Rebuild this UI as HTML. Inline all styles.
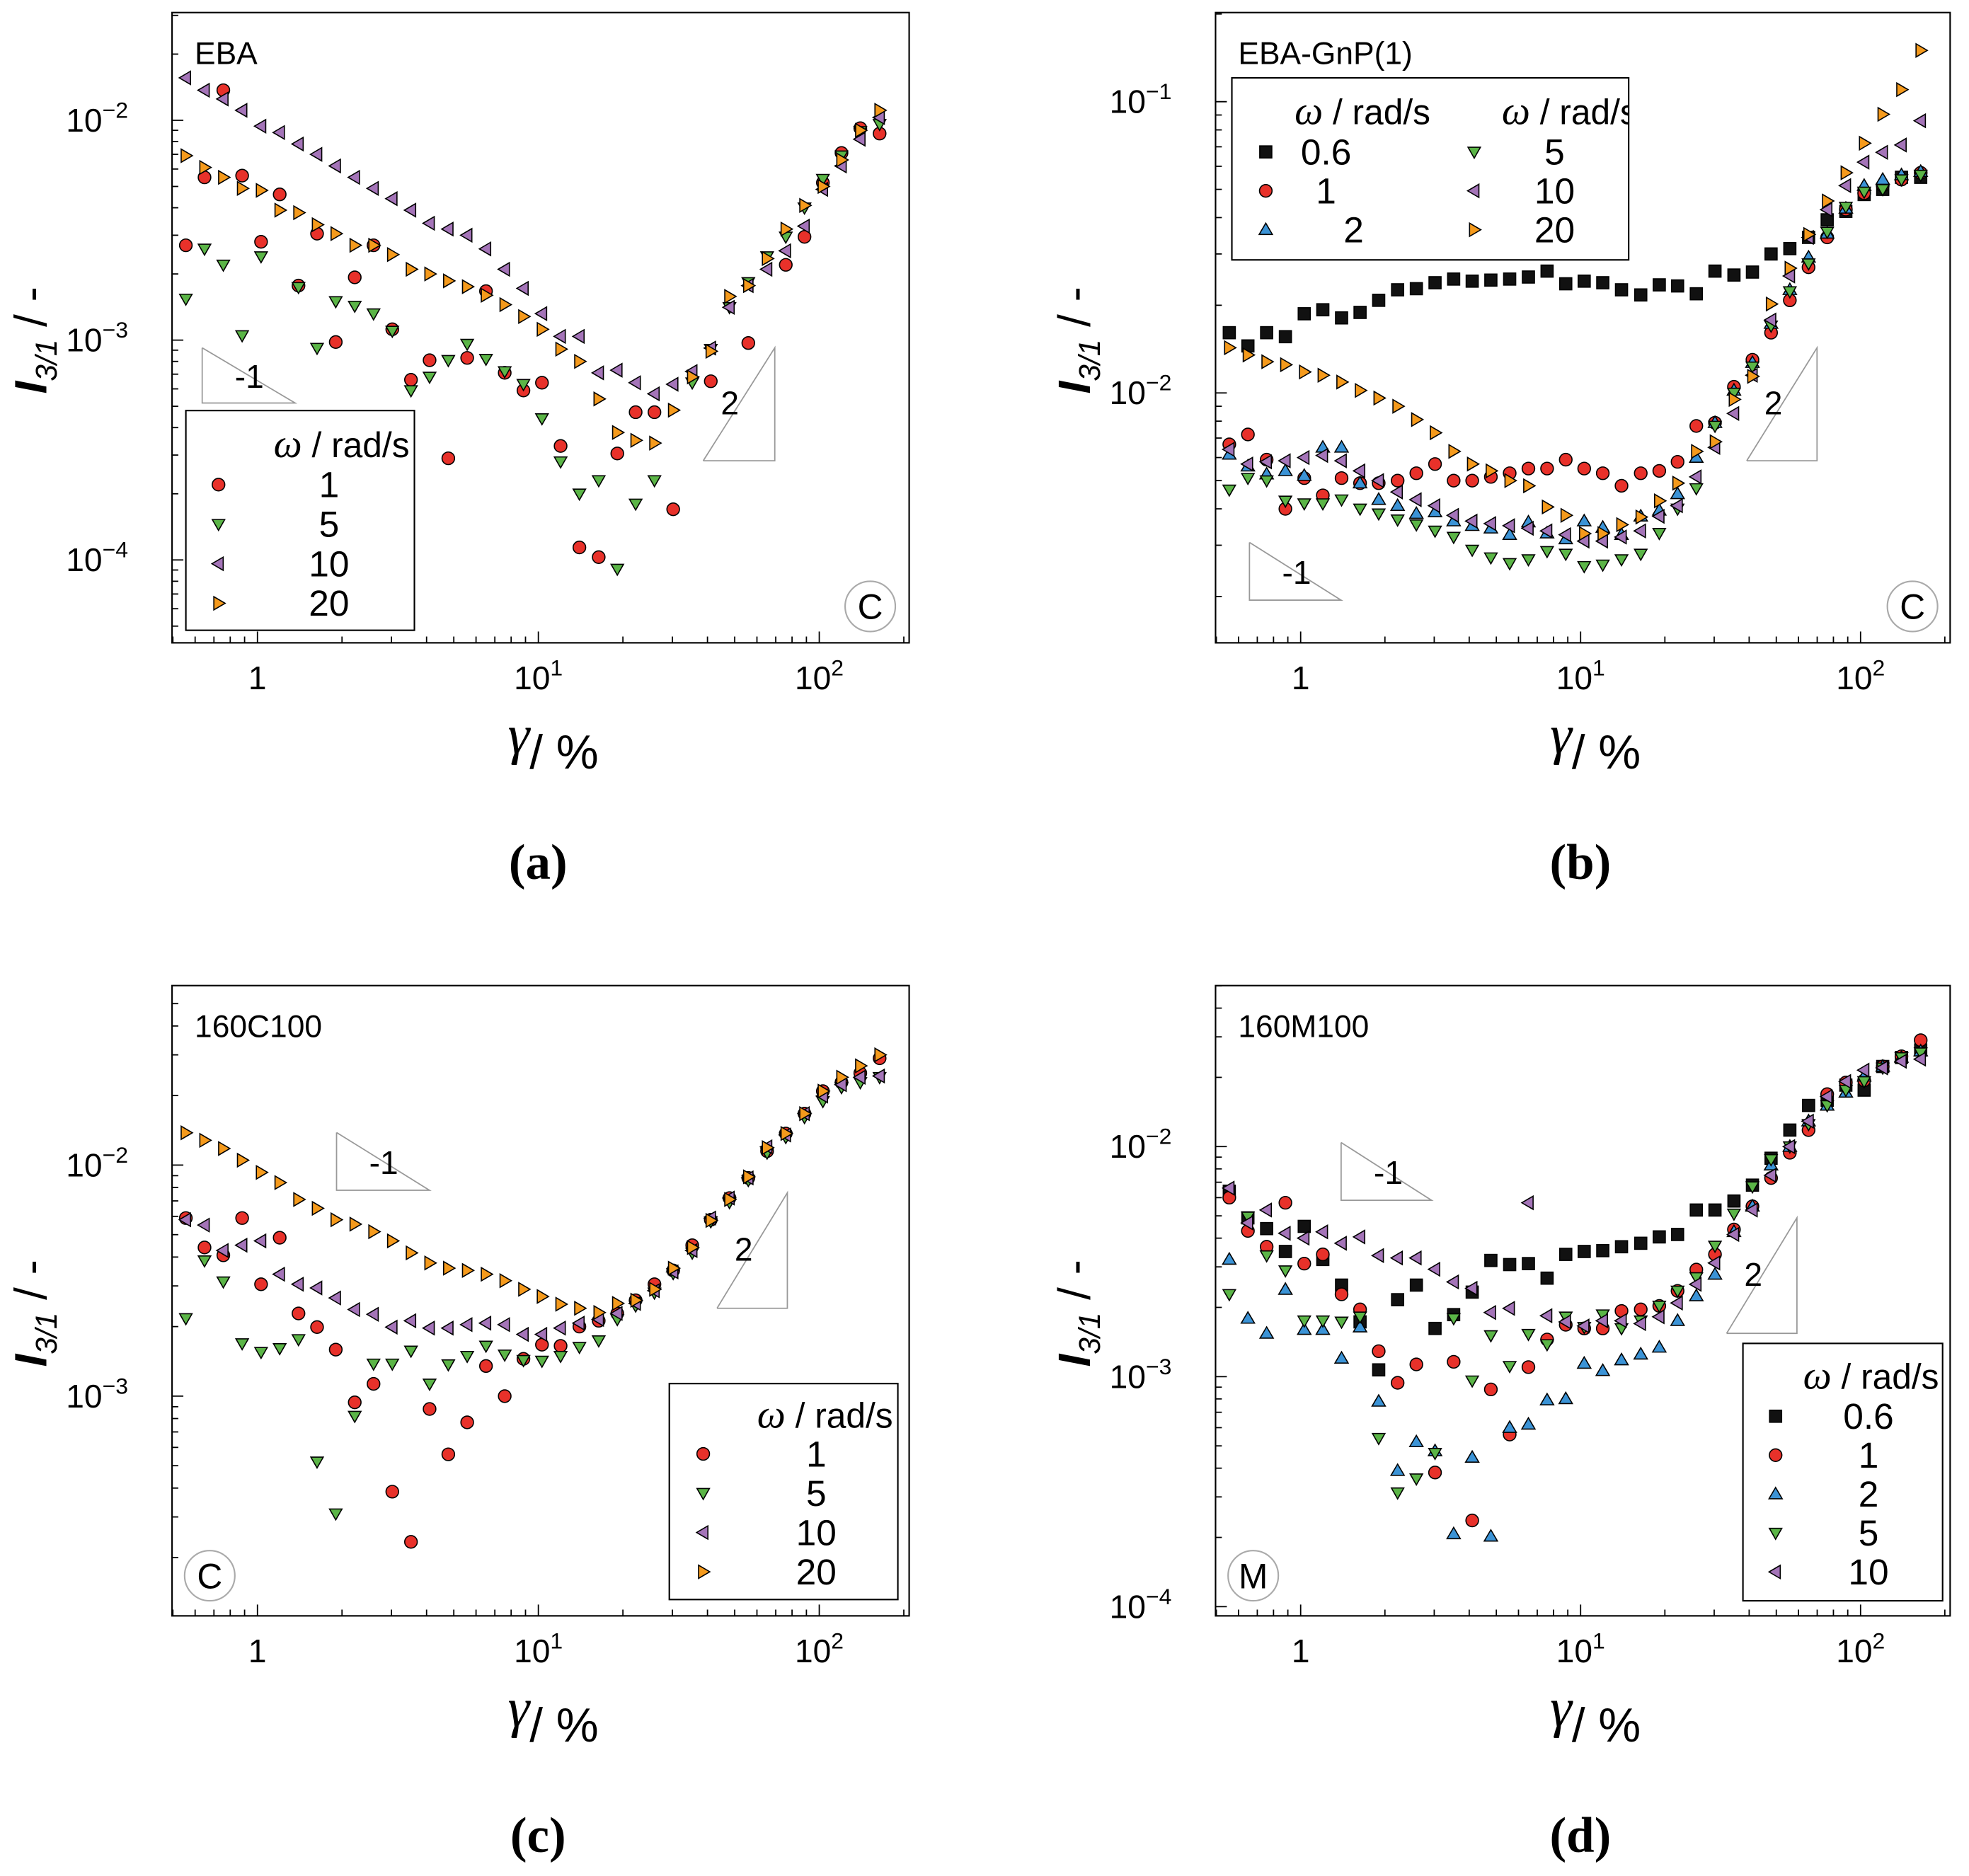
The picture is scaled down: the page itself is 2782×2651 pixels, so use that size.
<!DOCTYPE html>
<html><head><meta charset="utf-8"><style>
html,body{margin:0;padding:0;background:#fff}
svg{display:block}
text{font-family:"Liberation Sans",sans-serif}
text.serif,tspan.serif{font-family:"Liberation Serif",serif}
</style></head><body>
<svg id="fig" xmlns="http://www.w3.org/2000/svg" width="2782" height="2651" viewBox="0 0 1568 1494.2"></svg>
<script>
// shared strain grid (%)
const strain=[0.556,0.648,0.756,0.882,1.03,1.20,1.40,1.63,1.90,2.22,2.59,3.02,3.52,4.10,4.78,5.58,6.51,7.59,8.85,10.3,12.0,14.0,16.4,19.1,22.2,25.9,30.2,35.3,41.1,47.9,55.9,65.2,76.0,88.6,103,120,140,164];
// Panel (a) EBA
const aW1=[2.7e-3,5.5e-3,1.37e-2,5.6e-3,2.8e-3,4.6e-3,1.77e-3,3.05e-3,9.8e-4,1.93e-3,2.7e-3,1.12e-3,6.6e-4,8.1e-4,2.9e-4,8.3e-4,1.67e-3,7.1e-4,5.9e-4,6.4e-4,3.3e-4,1.14e-4,1.03e-4,3.05e-4,4.7e-4,4.7e-4,1.7e-4,null,6.5e-4,null,9.7e-4,null,2.2e-3,2.95e-3,5.2e-3,7.1e-3,9.2e-3,8.7e-3];
const aW5=[1.54e-3,2.6e-3,2.2e-3,1.05e-3,2.4e-3,null,1.74e-3,9.2e-4,1.5e-3,1.43e-3,1.32e-3,1.1e-3,5.9e-4,6.8e-4,8.1e-4,9.6e-4,8.2e-4,7.2e-4,6.3e-4,4.4e-4,2.8e-4,2.0e-4,2.3e-4,9.1e-5,1.8e-4,2.3e-4,null,6.4e-4,9.1e-4,1.41e-3,1.83e-3,2.4e-3,2.95e-3,4.0e-3,5.4e-3,6.9e-3,8.9e-3,9.6e-3];
const aW10=[1.56e-2,1.37e-2,1.25e-2,1.11e-2,9.4e-3,8.8e-3,7.8e-3,7.0e-3,6.2e-3,5.5e-3,4.9e-3,4.4e-3,3.9e-3,3.4e-3,3.2e-3,3.0e-3,2.6e-3,2.1e-3,1.72e-3,1.32e-3,1.04e-3,1.04e-3,7.1e-4,7.3e-4,6.4e-4,5.7e-4,6.3e-4,7.2e-4,9.2e-4,1.41e-3,1.77e-3,2.1e-3,2.55e-3,3.3e-3,4.85e-3,6.2e-3,8.2e-3,1.03e-2];
const aW20=[6.9e-3,6.1e-3,5.5e-3,4.9e-3,4.8e-3,3.9e-3,3.8e-3,3.35e-3,3.05e-3,2.7e-3,2.7e-3,2.45e-3,2.1e-3,2.0e-3,1.86e-3,1.75e-3,1.6e-3,1.45e-3,1.28e-3,1.12e-3,9.1e-4,8.0e-4,5.4e-4,3.8e-4,3.5e-4,3.4e-4,4.8e-4,6.8e-4,8.9e-4,1.58e-3,1.77e-3,2.35e-3,3.2e-3,4.1e-3,5.0e-3,6.6e-3,9.0e-3,1.11e-2];
// Panel (b) EBA-GnP(1)
const bW06=[1.61e-2,1.45e-2,1.61e-2,1.56e-2,1.87e-2,1.93e-2,1.81e-2,1.89e-2,2.08e-2,2.26e-2,2.28e-2,2.39e-2,2.46e-2,2.42e-2,2.44e-2,2.46e-2,2.5e-2,2.62e-2,2.37e-2,2.42e-2,2.39e-2,2.26e-2,2.17e-2,2.35e-2,2.33e-2,2.19e-2,2.62e-2,2.54e-2,2.6e-2,3.0e-2,3.13e-2,3.42e-2,3.93e-2,4.2e-2,4.8e-2,5.0e-2,5.5e-2,5.5e-2];
const bW1=[6.66e-3,7.2e-3,5.9e-3,4.0e-3,5.1e-3,4.45e-3,5.1e-3,4.9e-3,4.9e-3,5.0e-3,5.3e-3,5.7e-3,5.0e-3,5.0e-3,5.15e-3,5.3e-3,5.5e-3,5.5e-3,5.9e-3,5.5e-3,5.3e-3,4.8e-3,5.3e-3,5.4e-3,5.8e-3,7.7e-3,7.9e-3,1.05e-2,1.3e-2,1.61e-2,2.08e-2,2.7e-2,3.42e-2,4.26e-2,4.85e-2,5.15e-2,5.4e-2,5.7e-2];
const bW2=[6.15e-3,5.6e-3,5.26e-3,5.4e-3,5.2e-3,6.5e-3,6.5e-3,4.9e-3,4.3e-3,4.1e-3,3.85e-3,3.9e-3,3.63e-3,3.5e-3,3.43e-3,3.26e-3,3.6e-3,3.3e-3,3.15e-3,3.63e-3,3.45e-3,3.26e-3,3.77e-3,3.95e-3,4.5e-3,6.0e-3,7.9e-3,1.02e-2,1.27e-2,1.73e-2,2.26e-2,2.92e-2,3.53e-2,4.3e-2,5.15e-2,5.4e-2,5.6e-2,5.75e-2];
const bW5=[4.65e-3,5.1e-3,5.0e-3,4.26e-3,4.17e-3,4.17e-3,4.3e-3,4.0e-3,3.85e-3,3.67e-3,3.53e-3,3.36e-3,3.2e-3,2.89e-3,2.72e-3,2.6e-3,2.68e-3,2.86e-3,2.8e-3,2.54e-3,2.57e-3,2.68e-3,2.8e-3,3.3e-3,4.0e-3,4.7e-3,7.7e-3,1.0e-2,1.23e-2,1.7e-2,2.23e-2,2.78e-2,3.57e-2,4.35e-2,4.9e-2,5.0e-2,5.4e-2,5.6e-2];
const bW10=[6.4e-3,5.7e-3,5.8e-3,5.85e-3,6.0e-3,6.1e-3,5.85e-3,5.4e-3,5.0e-3,4.57e-3,4.3e-3,4.1e-3,3.8e-3,3.63e-3,3.56e-3,3.5e-3,3.43e-3,3.36e-3,3.26e-3,3.1e-3,3.1e-3,3.2e-3,3.36e-3,3.77e-3,4.1e-3,5.15e-3,6.5e-3,8.5e-3,1.15e-2,1.78e-2,2.52e-2,3.42e-2,4.26e-2,5.15e-2,6.2e-2,6.7e-2,7.1e-2,8.6e-2];
const bW20=[1.43e-2,1.35e-2,1.28e-2,1.25e-2,1.18e-2,1.15e-2,1.09e-2,1.02e-2,9.6e-3,9.0e-3,8.1e-3,7.3e-3,6.3e-3,5.7e-3,5.4e-3,5.0e-3,4.8e-3,4.06e-3,3.8e-3,3.29e-3,3.29e-3,3.53e-3,3.75e-3,4.26e-3,4.9e-3,6.3e-3,6.8e-3,9.5e-3,1.14e-2,2.02e-2,2.68e-2,3.5e-2,4.56e-2,5.7e-2,7.2e-2,9.05e-2,0.11,0.15];
// Panel (c) 160C100
const cW1=[5.9e-3,4.4e-3,4.07e-3,5.9e-3,3.05e-3,4.85e-3,2.28e-3,1.99e-3,1.59e-3,9.4e-4,1.13e-3,3.86e-4,2.34e-4,8.8e-4,5.6e-4,7.7e-4,1.35e-3,1.0e-3,1.45e-3,1.67e-3,1.65e-3,2.0e-3,2.12e-3,2.28e-3,2.6e-3,3.05e-3,3.5e-3,4.5e-3,5.8e-3,7.2e-3,8.8e-3,1.15e-2,1.37e-2,1.67e-2,2.09e-2,2.28e-2,2.5e-2,2.9e-2];
const cW5=[2.17e-3,3.86e-3,3.13e-3,1.69e-3,1.55e-3,1.61e-3,1.76e-3,5.2e-4,3.1e-4,8.2e-4,1.38e-3,1.38e-3,1.57e-3,1.13e-3,1.37e-3,1.49e-3,1.65e-3,1.51e-3,1.43e-3,1.42e-3,1.49e-3,1.63e-3,1.74e-3,2.15e-3,2.46e-3,2.8e-3,3.4e-3,4.17e-3,5.7e-3,6.9e-3,8.6e-3,1.13e-2,1.32e-2,1.61e-2,1.89e-2,2.17e-2,2.28e-2,2.4e-2];
const cW10=[5.8e-3,5.5e-3,4.27e-3,4.5e-3,4.7e-3,3.37e-3,3.05e-3,2.94e-3,2.66e-3,2.37e-3,2.26e-3,1.99e-3,2.12e-3,1.97e-3,1.97e-3,2.04e-3,2.07e-3,2.04e-3,1.85e-3,1.85e-3,1.97e-3,2.07e-3,2.15e-3,2.28e-3,2.52e-3,2.86e-3,3.45e-3,4.27e-3,5.9e-3,7.2e-3,8.8e-3,1.2e-2,1.35e-2,1.67e-2,1.99e-2,2.23e-2,2.4e-2,2.43e-2];
const cW20=[1.38e-2,1.28e-2,1.18e-2,1.05e-2,9.3e-3,8.4e-3,7.1e-3,6.5e-3,5.8e-3,5.55e-3,5.15e-3,4.7e-3,4.17e-3,3.77e-3,3.58e-3,3.5e-3,3.37e-3,3.16e-3,2.9e-3,2.7e-3,2.5e-3,2.4e-3,2.3e-3,2.52e-3,2.6e-3,2.9e-3,3.58e-3,4.4e-3,5.76e-3,7.1e-3,8.9e-3,1.19e-2,1.37e-2,1.67e-2,2.09e-2,2.4e-2,2.69e-2,3.0e-2];
// Panel (d) 160M100
const dW06=[6.4e-3,4.9e-3,4.4e-3,3.5e-3,4.5e-3,3.23e-3,2.5e-3,1.73e-3,1.07e-3,2.16e-3,2.5e-3,1.62e-3,1.86e-3,2.33e-3,3.2e-3,3.07e-3,3.1e-3,2.68e-3,3.4e-3,3.5e-3,3.53e-3,3.67e-3,3.8e-3,4.05e-3,4.15e-3,5.3e-3,5.3e-3,5.8e-3,6.8e-3,8.9e-3,1.18e-2,1.51e-2,1.59e-2,1.85e-2,1.76e-2,2.23e-2,2.44e-2,2.63e-2];
const dW1=[6.0e-3,4.3e-3,3.67e-3,5.7e-3,3.1e-3,3.4e-3,2.28e-3,1.96e-3,1.29e-3,9.4e-4,1.13e-3,3.83e-4,1.16e-3,2.37e-4,8.8e-4,5.6e-4,1.1e-3,1.45e-3,1.68e-3,1.62e-3,1.62e-3,1.93e-3,1.96e-3,2.03e-3,2.36e-3,2.92e-3,3.4e-3,4.36e-3,5.5e-3,7.3e-3,9.4e-3,1.18e-2,1.69e-2,1.9e-2,1.94e-2,2.23e-2,2.47e-2,2.9e-2];
const dW2=[3.23e-3,1.79e-3,1.54e-3,2.39e-3,1.6e-3,1.6e-3,1.2e-3,1.64e-3,7.8e-4,3.9e-4,5.2e-4,4.75e-4,2.07e-4,4.45e-4,2.02e-4,6.0e-4,6.2e-4,7.9e-4,8.0e-4,1.14e-3,1.06e-3,1.18e-3,1.25e-3,1.34e-3,1.75e-3,2.24e-3,2.78e-3,4.26e-3,5.5e-3,8.3e-3,1.0e-2,1.29e-2,1.51e-2,1.72e-2,2.02e-2,2.23e-2,2.44e-2,2.6e-2];
const dW5=[2.28e-3,4.95e-3,3.36e-3,2.89e-3,1.75e-3,1.75e-3,1.73e-3,1.82e-3,5.4e-4,3.13e-4,3.6e-4,4.65e-4,1.79e-3,9.6e-4,1.51e-3,1.11e-3,1.53e-3,1.38e-3,1.82e-3,1.64e-3,1.86e-3,1.62e-3,1.75e-3,2.03e-3,2.36e-3,2.7e-3,3.7e-3,5.1e-3,6.7e-3,8.8e-3,1.0e-2,1.25e-2,1.51e-2,1.76e-2,1.92e-2,2.2e-2,2.44e-2,2.56e-2];
const dW10=[6.6e-3,4.66e-3,5.3e-3,4.2e-3,4.0e-3,4.26e-3,3.8e-3,4.05e-3,3.36e-3,3.28e-3,3.28e-3,2.93e-3,2.58e-3,2.42e-3,1.9e-3,1.98e-3,5.7e-3,1.84e-3,1.73e-3,1.66e-3,1.75e-3,1.75e-3,1.7e-3,1.82e-3,2.09e-3,2.52e-3,3.12e-3,4.15e-3,5.3e-3,7.5e-3,1.0e-2,1.29e-2,1.65e-2,1.92e-2,2.15e-2,2.2e-2,2.35e-2,2.4e-2];
const yTickA=[-2,-3,-4], yTickB=[-1,-2], yTickC=[-2,-3], yTickD=[-2,-3,-4];

const NS="http://www.w3.org/2000/svg";
const svg=document.getElementById('fig');
function mk(tag,attrs,parent){const e=document.createElementNS(NS,tag);for(const k in attrs)e.setAttribute(k,attrs[k]);(parent||svg).appendChild(e);return e;}
const COL={r:"#e8312a",g:"#5bb547",b:"#3b93d6",p:"#a474b8",o:"#f59a1c",k:"#111"};
function marker(g,type,x,y,s){
  s=s||1;let e;const st={fill:COL[type],stroke:"#000","stroke-width":0.9};
  if(type==='r'){e=mk('circle',Object.assign({cx:x,cy:y,r:5*s},st),g);}
  else if(type==='k'){e=mk('rect',Object.assign({x:x-4.8*s,y:y-4.8*s,width:9.6*s,height:9.6*s},st),g);}
  else{let p;const a=6.2*s;
    if(type==='g')p=[[x-a*0.8,y-a*0.6],[x+a*0.8,y-a*0.6],[x,y+a*0.8]];
    if(type==='b')p=[[x-a*0.85,y+a*0.6],[x+a*0.85,y+a*0.6],[x,y-a*0.85]];
    if(type==='p')p=[[x+a*0.6,y-a*0.85],[x+a*0.6,y+a*0.85],[x-a*0.85,y]];
    if(type==='o')p=[[x-a*0.6,y-a*0.85],[x-a*0.6,y+a*0.85],[x+a*0.85,y]];
    e=mk('polygon',Object.assign({points:p.map(q=>q.join(',')).join(' ')},st),g);}
  return e;
}
const panels=[
 {id:'a',x0:137,x1:724,y0:10,y1:512,xl:-0.304,xh:2.32,yl:-4.377,yh:-1.51,yt:yTickA,title:'EBA',lab:'(a)',circ:'C',cx:693,cy:483,
  series:[['r',aW1],['g',aW5],['p',aW10],['o',aW20]]},
 {id:'b',x0:968,x1:1553,y0:10,y1:512,xl:-0.304,xh:2.32,yl:-2.858,yh:-0.694,yt:yTickB,title:'EBA-GnP(1)',lab:'(b)',circ:'C',cx:1523,cy:483,
  series:[['k',bW06],['r',bW1],['b',bW2],['g',bW5],['p',bW10],['o',bW20]]},
 {id:'c',x0:137,x1:724,y0:785,y1:1287,xl:-0.304,xh:2.32,yl:-3.951,yh:-1.223,yt:yTickC,title:'160C100',lab:'(c)',circ:'C',cx:167,cy:1255,
  series:[['r',cW1],['g',cW5],['p',cW10],['o',cW20]]},
 {id:'d',x0:968,x1:1553,y0:785,y1:1287,xl:-0.304,xh:2.32,yl:-4.04,yh:-1.30,yt:yTickD,title:'160M100',lab:'(d)',circ:'M',cx:998,cy:1255,
  series:[['k',dW06],['r',dW1],['b',dW2],['g',dW5],['p',dW10]]}
];
const legends={
 a:{box:[148,327,182,175],tx:272,ty:355,rows:[['r','1'],['g','5'],['p','10'],['o','20']],mx:174,lx:262,ry:386,dy:31.5},
 c:{box:[533,1102,182,172],tx:657,ty:1128,rows:[['r','1'],['g','5'],['p','10'],['o','20']],mx:560,lx:650,ry:1158,dy:31.3},
 d:{box:[1388,1070,159,205],tx:1490,ty:1097,rows:[['k','0.6'],['r','1'],['b','2'],['g','5'],['p','10']],mx:1414,lx:1488,ry:1128,dy:31}
};
const tris={a:[[161,277,235,321],[560,367,617,277]],b:[[995,432,1068,478],[1391,367,1447,277]],c:[[268,902,342,948],[571,1042,627,950]],d:[[1068,910,1140,956],[1375,1062,1431,970]]};
panels.forEach(P=>{
  const g=mk('g',{});
  
  
  const X=v=>P.x0+(Math.log10(v)-P.xl)/(P.xh-P.xl)*(P.x1-P.x0);
  const Y=v=>P.y1-(Math.log10(v)-P.yl)/(P.yh-P.yl)*(P.y1-P.y0);
  const fr=mk('rect',{x:P.x0,y:P.y0,width:P.x1-P.x0,height:P.y1-P.y0,fill:'none',stroke:'#000','stroke-width':1.2},g);
  
  for(let d=-1;d<=2;d++)for(let m=1;m<10;m++){const v=m*Math.pow(10,d);const x=X(v);if(x<P.x0||x>P.x1)continue;
    mk('line',{x1:x,x2:x,y1:P.y1,y2:P.y1-(m===1?9:5),stroke:'#000','stroke-width':1},g);}
  [[1,'1',''],[10,'10','1'],[100,'10','2']].forEach(t=>{const tx=mk('text',{x:X(t[0]),y:P.y1+37,'font-size':26,'text-anchor':'middle'},g);
    
    tx.textContent=t[1];if(t[2]){const s=mk('tspan',{dy:-11,'font-size':18},tx);s.textContent=t[2];}});
  for(let d=-5;d<=0;d++)for(let m=1;m<10;m++){const v=m*Math.pow(10,d);const y=Y(v);if(y<P.y0||y>P.y1)continue;
    mk('line',{x1:P.x0,x2:P.x0+(m===1?9:5),y1:y,y2:y,stroke:'#000','stroke-width':1},g);}
  P.yt.forEach(e=>{const tx=mk('text',{x:P.x0-35,y:Y(Math.pow(10,e))+9,'font-size':26,'text-anchor':'end'},g);
    
    tx.textContent='10';const s=mk('tspan',{dy:-11,'font-size':18},tx);s.textContent='−'+(-e);});
  const cyl=(P.y0+P.y1)/2+10;
  const yl=mk('text',{x:0,y:0,'font-size':36,transform:`translate(${P.x0-100},${cyl}) rotate(-90)`,'text-anchor':'middle'},g);
  
  const t1=mk('tspan',{'font-style':'italic','font-weight':'bold'},yl);t1.textContent='I';
  const t2=mk('tspan',{'font-style':'italic','font-size':24,dy:8},yl);t2.textContent='3/1';
  const t3=mk('tspan',{dy:-8},yl);t3.textContent=' / -';
  const xm=(P.x0+P.x1)/2;
  const xl=mk('text',{x:xm+10,y:P.y1+100,'font-size':38,'text-anchor':'middle'},g);
  
  const g1=mk('tspan',{'font-style':'italic','class':'serif',dy:-12,'font-size':44},xl);g1.textContent='γ';
  const g2=mk('tspan',{dy:12},xl);g2.textContent='/ %';
  const lb=mk('text',{x:xm-2,y:P.y1+188,'font-size':40,'font-weight':'bold','class':'serif','text-anchor':'middle'},g);
  lb.textContent=P.lab;
  const ti=mk('text',{x:P.x0+18,y:P.y0+41,'font-size':25},g);
  ti.textContent=P.title;
  tris[P.id].forEach((t,i)=>{
    let pts;if(i===0)pts=`${t[0]},${t[1]} ${t[0]},${t[3]} ${t[2]},${t[3]} ${t[0]},${t[1]}`;else pts=`${t[0]},${t[1]} ${t[2]},${t[1]} ${t[2]},${t[3]} ${t[0]},${t[1]}`;
    const pl=mk('polyline',{points:pts,fill:'none',stroke:'#999','stroke-width':1},g);
    
    const tt=mk('text',{x:i===0?t[0]+26:t[0]+14,y:i===0?(t[1]+t[3])/2+10:(t[1]+t[3])/2+8,'font-size':26},g);
    tt.textContent=i===0?'-1':'2';
  });
  const Lg=legends[P.id];
  if(Lg){const lg=mk('g',{},g);
    mk('rect',{x:Lg.box[0],y:Lg.box[1],width:Lg.box[2],height:Lg.box[3],fill:'#fff',stroke:'#000','stroke-width':1.2},lg);
    const cp=mk('clipPath',{id:'cl'+P.id},lg);mk('rect',{x:Lg.box[0],y:Lg.box[1],width:Lg.box[2],height:Lg.box[3]},cp);
    const tt=mk('text',{x:Lg.tx,y:Lg.ty+9,'font-size':28,'text-anchor':'middle','clip-path':`url(#cl${P.id})`},lg);
    
    const om=mk('tspan',{'font-style':'italic','class':'serif','font-size':32},tt);om.textContent='ω';
    const rs=mk('tspan',{},tt);rs.textContent=' / rad/s';
    Lg.rows.forEach((r,i)=>{const y=Lg.ry+i*Lg.dy;const m=marker(lg,r[0],Lg.mx,y);
      
      const l=mk('text',{x:Lg.lx,y:y+10,'font-size':29,'text-anchor':'middle'},lg);
      l.textContent=r[1];});
  }
  if(P.id==='b'){const lg=mk('g',{},g);
    mk('rect',{x:981,y:62,width:316,height:145,fill:'#fff',stroke:'#000','stroke-width':1.2},lg);
    const cp=mk('clipPath',{id:'clb'},lg);mk('rect',{x:981,y:62,width:316,height:145},cp);
    [[1085],[1250]].forEach(c=>{const tt=mk('text',{x:c[0],y:99,'font-size':28,'text-anchor':'middle','clip-path':'url(#clb)'},lg);
      
      const om=mk('tspan',{'font-style':'italic','class':'serif','font-size':32},tt);om.textContent='ω';
      const rs=mk('tspan',{},tt);rs.textContent=' / rad/s';});
    const rows=[['k','0.6',1008,1056,121],['r','1',1008,1056,152],['b','2',1008,1078,183],['g','5',1174,1238,121],['p','10',1174,1238,152],['o','20',1174,1238,183]];
    rows.forEach(r=>{const m=marker(lg,r[0],r[2],r[4]);
      const l=mk('text',{x:r[3],y:r[4]+10,'font-size':29,'text-anchor':'middle'},lg);
      l.textContent=r[1];});
  }
  P.series.forEach(s=>{const sg=mk('g',{},g);
    s[1].forEach((v,i)=>{if(v==null)return;const m=marker(sg,s[0],X(strain[i]),Y(v));
      });});
  mk('circle',{cx:P.cx,cy:P.cy,r:20,fill:'none',stroke:'#aaa','stroke-width':1.2},g);
  const cl=mk('text',{x:P.cx,y:P.cy+10,'font-size':28,'text-anchor':'middle'},g);
  cl.textContent=P.circ;
});
</script>
</body></html>
